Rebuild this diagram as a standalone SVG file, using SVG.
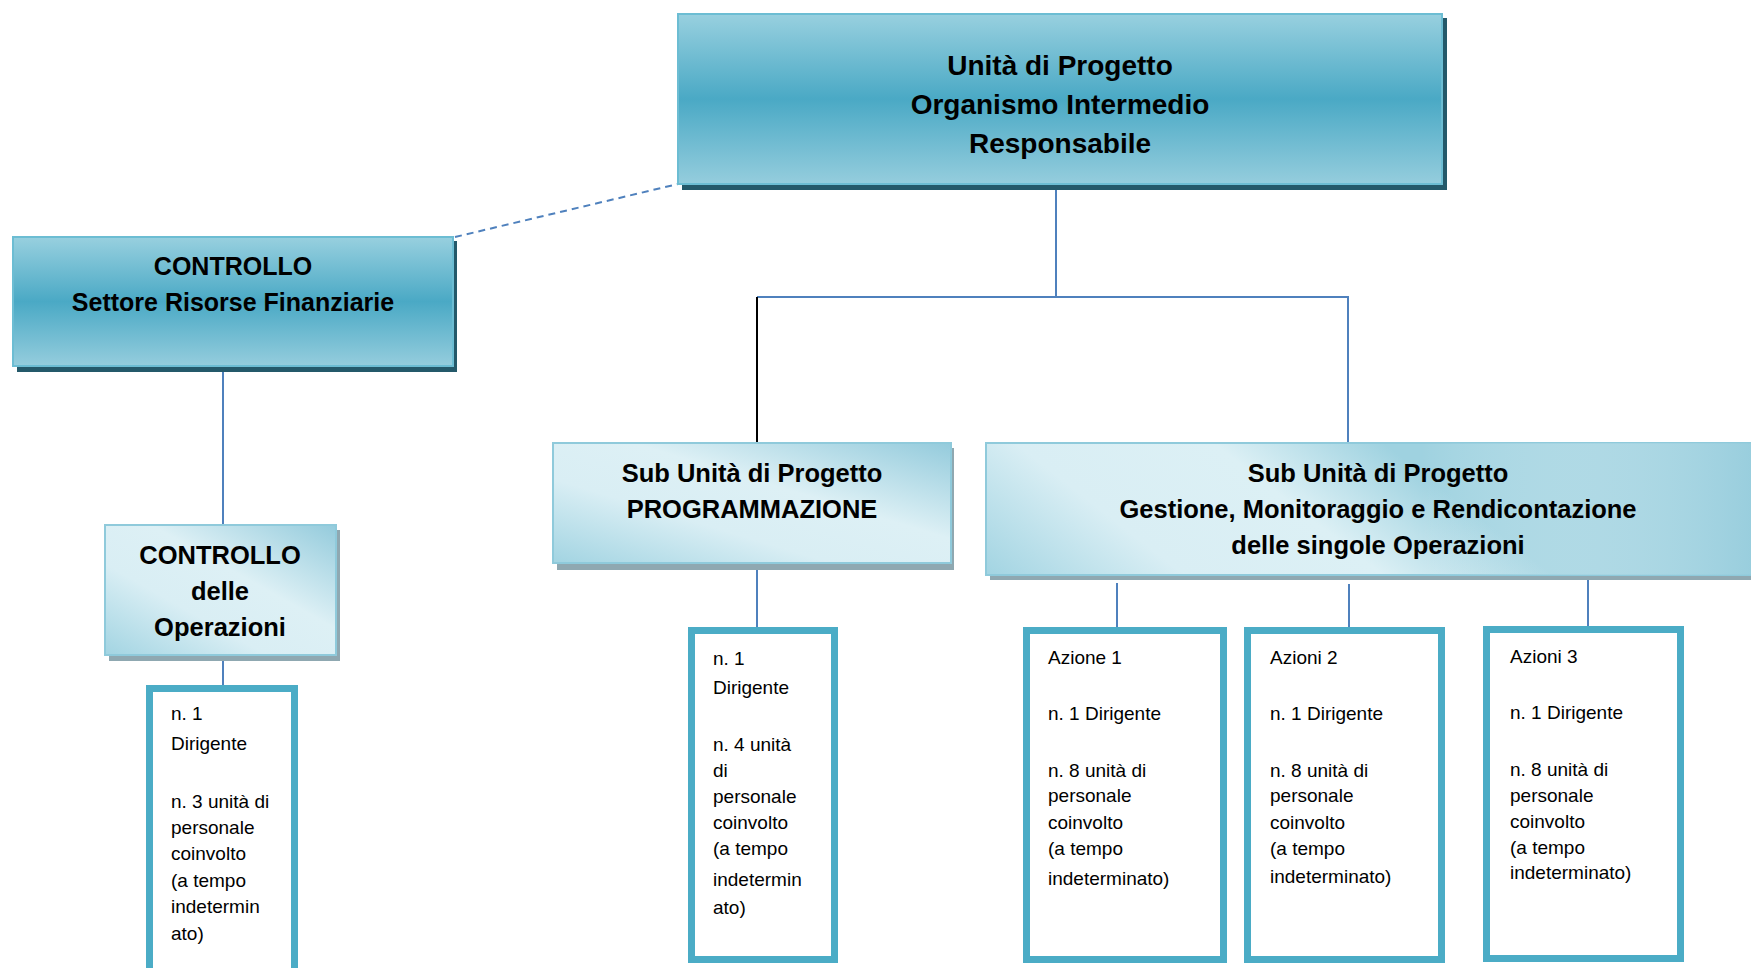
<svg xmlns="http://www.w3.org/2000/svg" width="1751" height="968" viewBox="0 0 1751 968">
<defs>
<linearGradient id="gDark" x1="0" y1="0" x2="0" y2="1">
<stop offset="0" stop-color="#98d0df"/>
<stop offset="0.5" stop-color="#4aa9c5"/>
<stop offset="1" stop-color="#95cddd"/>
</linearGradient>
<linearGradient id="gLight" x1="0" y1="1" x2="1" y2="0">
<stop offset="0" stop-color="#a2d4e2"/>
<stop offset="0.35" stop-color="#d9eef4"/>
<stop offset="0.6" stop-color="#ddf0f5"/>
<stop offset="1" stop-color="#94cbdc"/>
</linearGradient>
<linearGradient id="gWide" gradientUnits="userSpaceOnUse" x1="986" y1="575" x2="1200" y2="300">
<stop offset="0" stop-color="#a2d4e2"/>
<stop offset="0.35" stop-color="#d9eef4"/>
<stop offset="0.7" stop-color="#dcf0f5"/>
<stop offset="1" stop-color="#9fd2e0"/>
</linearGradient>
<linearGradient id="gWide2" x1="0" y1="0" x2="1" y2="0">
<stop offset="0" stop-color="#ffffff" stop-opacity="0"/>
<stop offset="0.55" stop-color="#ffffff" stop-opacity="0"/>
<stop offset="1" stop-color="#8fc9da" stop-opacity="0.8"/>
</linearGradient>
</defs>
<style>
.h{font-family:"Liberation Sans",Arial,sans-serif;font-weight:bold;fill:#000;text-anchor:middle}
.b{font-family:"Liberation Sans",Arial,sans-serif;font-size:19px;fill:#000}
.staff{fill:#fff;stroke:#4bacc6;stroke-width:7}
.dk{fill:url(#gDark);stroke:#6cbdd3;stroke-width:2}
.lt{fill:url(#gLight);stroke:#8fcadb;stroke-width:2}
.sd{fill:#24596a}
.sl{fill:#8fa8b1}
.c{stroke:#4f81bd;stroke-width:2;fill:none}
</style>

<g id="connectors">
<line class="c" x1="1056" y1="186" x2="1056" y2="297"/>
<line class="c" x1="757" y1="297" x2="1349" y2="297"/>
<line x1="757" y1="297" x2="757" y2="443" stroke="#000" stroke-width="2"/>
<line class="c" x1="1348" y1="297" x2="1348" y2="443"/>
<line class="c" x1="455" y1="237" x2="678" y2="184" stroke-dasharray="7,5"/>
<line class="c" x1="223" y1="370" x2="223" y2="525"/>
<line class="c" x1="223" y1="658" x2="223" y2="685"/>
<line class="c" x1="757" y1="568" x2="757" y2="627"/>
<line class="c" x1="1117" y1="583" x2="1117" y2="627"/>
<line class="c" x1="1349" y1="584" x2="1349" y2="627"/>
<line class="c" x1="1588" y1="580" x2="1588" y2="626"/>
</g>

<g id="node-top">
<rect class="sd" x="682" y="18" width="765" height="172"/>
<rect class="dk" x="678" y="14" width="764" height="170"/>
<text class="h" font-size="28" x="1060" y="75">Unità di Progetto</text>
<text class="h" font-size="28" x="1060" y="114">Organismo Intermedio</text>
<text class="h" font-size="28" x="1060" y="153">Responsabile</text>
</g>

<g id="node-controllo-settore">
<rect class="sd" x="17" y="241" width="440" height="131"/>
<rect class="dk" x="13" y="237" width="440" height="129"/>
<text class="h" font-size="25" x="233" y="275">CONTROLLO</text>
<text class="h" font-size="25" x="233" y="311">Settore Risorse Finanziarie</text>
</g>

<g id="node-controllo-operazioni">
<rect class="sl" x="109" y="530" width="231" height="131"/>
<rect class="lt" x="105" y="525" width="231" height="130"/>
<text class="h" font-size="25.5" x="220" y="564">CONTROLLO</text>
<text class="h" font-size="25.5" x="220" y="600">delle</text>
<text class="h" font-size="25.5" x="220" y="636">Operazioni</text>
</g>

<g id="node-programmazione">
<rect class="sl" x="557" y="448" width="397" height="122"/>
<rect class="lt" x="553" y="443" width="398" height="120"/>
<text class="h" font-size="25.5" x="752" y="482">Sub Unità di Progetto</text>
<text class="h" font-size="25.5" x="752" y="518">PROGRAMMAZIONE</text>
</g>

<g id="node-gestione">
<rect class="sl" x="990" y="448" width="780" height="132"/>
<rect x="986" y="443" width="790" height="132" fill="url(#gWide)" stroke="#8fcadb" stroke-width="2"/>
<rect x="986" y="443" width="790" height="132" fill="url(#gWide2)"/>
<text class="h" font-size="25.5" x="1378" y="482">Sub Unità di Progetto</text>
<text class="h" font-size="25.5" x="1378" y="518">Gestione, Monitoraggio e Rendicontazione</text>
<text class="h" font-size="25.5" x="1378" y="554">delle singole Operazioni</text>
</g>

<g id="staff-controllo">
<rect class="staff" x="149.5" y="688.5" width="145" height="330"/>
<text class="b" x="171" y="720">n. 1</text>
<text class="b" x="171" y="750">Dirigente</text>
<text class="b" x="171" y="808">n. 3 unità di</text>
<text class="b" x="171" y="834">personale</text>
<text class="b" x="171" y="860">coinvolto</text>
<text class="b" x="171" y="887">(a tempo</text>
<text class="b" x="171" y="913">indetermin</text>
<text class="b" x="171" y="940">ato)</text>
</g>

<g id="staff-programmazione">
<rect class="staff" x="691.5" y="630.5" width="143" height="329"/>
<text class="b" x="713" y="665">n. 1</text>
<text class="b" x="713" y="694">Dirigente</text>
<text class="b" x="713" y="751">n. 4 unità</text>
<text class="b" x="713" y="777">di</text>
<text class="b" x="713" y="803">personale</text>
<text class="b" x="713" y="829">coinvolto</text>
<text class="b" x="713" y="855">(a tempo</text>
<text class="b" x="713" y="886">indetermin</text>
<text class="b" x="713" y="914">ato)</text>
</g>

<g id="staff-azione1">
<rect class="staff" x="1026.5" y="630.5" width="197" height="329"/>
<text class="b" x="1048" y="664">Azione 1</text>
<text class="b" x="1048" y="720">n. 1 Dirigente</text>
<text class="b" x="1048" y="777">n. 8 unità di</text>
<text class="b" x="1048" y="802">personale</text>
<text class="b" x="1048" y="829">coinvolto</text>
<text class="b" x="1048" y="855">(a tempo</text>
<text class="b" x="1048" y="885">indeterminato)</text>
</g>

<g id="staff-azioni2">
<rect class="staff" x="1247.5" y="630.5" width="194" height="329"/>
<text class="b" x="1270" y="664">Azioni 2</text>
<text class="b" x="1270" y="720">n. 1 Dirigente</text>
<text class="b" x="1270" y="777">n. 8 unità di</text>
<text class="b" x="1270" y="802">personale</text>
<text class="b" x="1270" y="829">coinvolto</text>
<text class="b" x="1270" y="855">(a tempo</text>
<text class="b" x="1270" y="883">indeterminato)</text>
</g>

<g id="staff-azioni3">
<rect class="staff" x="1486.5" y="629.5" width="194" height="329"/>
<text class="b" x="1510" y="663">Azioni 3</text>
<text class="b" x="1510" y="719">n. 1 Dirigente</text>
<text class="b" x="1510" y="776">n. 8 unità di</text>
<text class="b" x="1510" y="802">personale</text>
<text class="b" x="1510" y="828">coinvolto</text>
<text class="b" x="1510" y="854">(a tempo</text>
<text class="b" x="1510" y="879">indeterminato)</text>
</g>
</svg>
